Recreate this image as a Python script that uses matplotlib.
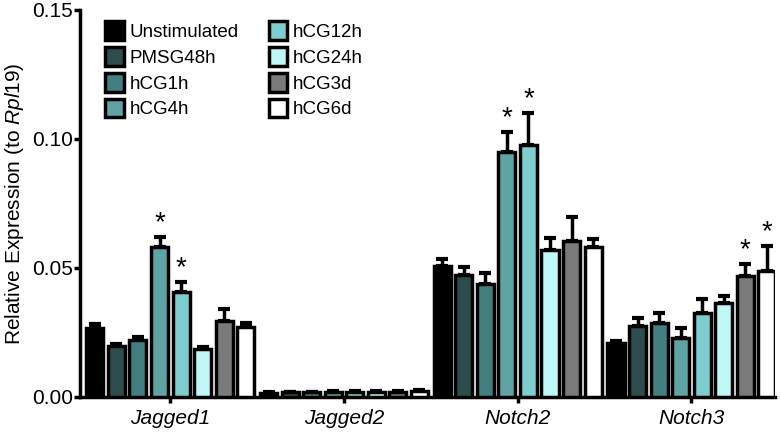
import numpy as np
import matplotlib
matplotlib.use("Agg")
import matplotlib.pyplot as plt

plt.rcParams['font.family'] = ['Liberation Sans', 'DejaVu Sans']
plt.rcParams['mathtext.fontset'] = 'custom'
plt.rcParams['mathtext.it'] = 'Liberation Sans:italic'
plt.rcParams['mathtext.rm'] = 'Liberation Sans'

# data
genes = ["Jagged1", "Jagged2", "Notch2", "Notch3"]
conditions = ["Unstimulated", "PMSG48h", "hCG1h", "hCG4h",
              "hCG12h", "hCG24h", "hCG3d", "hCG6d"]
colors = ["#000000", "#2d4c4c", "#417f80", "#5fa3a4",
          "#7dcdce", "#bff7f7", "#7a7a7a", "#ffffff"]

# mean values, one list per gene (order = conditions)
jagged1 = [0.0267, 0.0198, 0.0221, 0.0580, 0.0407, 0.0186, 0.0295, 0.0271]
jagged2 = [0.0017, 0.0018, 0.0018, 0.0020, 0.0020, 0.0019, 0.0020, 0.0023]
notch2 = [0.0508, 0.0473, 0.0438, 0.0950, 0.0977, 0.0570, 0.0605, 0.0581]
notch3 = [0.0209, 0.0275, 0.0287, 0.0229, 0.0326, 0.0364, 0.0469, 0.0488]

# upper error (SEM)
jagged1_err = [0.0015, 0.0008, 0.0010, 0.0040, 0.0040, 0.0009, 0.0045, 0.0016]
jagged2_err = [0.0003, 0.0003, 0.0003, 0.0003, 0.0003, 0.0003, 0.0003, 0.0004]
notch2_err = [0.0027, 0.0031, 0.0042, 0.0077, 0.0123, 0.0046, 0.0093, 0.0031]
notch3_err = [0.0008, 0.0031, 0.0038, 0.0038, 0.0054, 0.0026, 0.0046, 0.0097]

# significance markers (gene index, condition index)
stars = [(0, 3), (0, 4), (2, 3), (2, 4), (3, 6), (3, 7)]

means = [jagged1, jagged2, notch2, notch3]
errs = [jagged1_err, jagged2_err, notch2_err, notch3_err]

fig = plt.figure(figsize=(7.81, 4.34), dpi=100)
ax = fig.add_axes([0.1024, 0.0853, 0.8896, 0.8917])

x = np.arange(len(genes))
pitch = 0.124
width = 0.098
for j, cond in enumerate(conditions):
    vals = [m[j] for m in means]
    ev = [e[j] for e in errs]
    pos = x + (j - 3.5) * pitch
    ax.bar(pos, vals, width, color=colors[j], edgecolor="black",
           linewidth=2.5, label=cond, zorder=3)
    ax.errorbar(pos, vals, yerr=[np.zeros(len(ev)), ev], fmt="none",
                ecolor="black", elinewidth=2.5, capsize=4, capthick=3,
                zorder=2)

for g, c in stars:
    top = means[g][c] + errs[g][c]
    ax.text(x[g] + (c - 3.5) * pitch, top + 0.0003, "*", ha="center",
            va="bottom", fontsize=20)

ax.set_xlim(-0.52, 3.48)
ax.set_ylim(0, 0.15)
ax.set_yticks([0, 0.05, 0.10, 0.15])
ax.set_yticklabels(["0.00", "0.05", "0.10", "0.15"])
ax.set_xticks(x)
ax.set_xticklabels(genes, style="italic")
ax.tick_params(labelsize=15, width=2.5, length=4)
ax.tick_params(axis="y", pad=1)
ax.tick_params(axis="x", pad=5)
ax.set_ylabel("Relative Expression (to $\\it{Rpl19}$)", fontsize=15,
              labelpad=4)

for side in ["top", "right"]:
    ax.spines[side].set_visible(False)
for side in ["left", "bottom"]:
    ax.spines[side].set_linewidth(2.5)

ax.legend(ncol=2, loc="upper left", bbox_to_anchor=(0.02, 1.0),
          frameon=False, fontsize=13.5, handlelength=1.0, handleheight=1.15,
          handletextpad=0.3, labelspacing=0.33, columnspacing=1.6,
          borderaxespad=0.2)

fig.savefig("out.png", dpi=100)
